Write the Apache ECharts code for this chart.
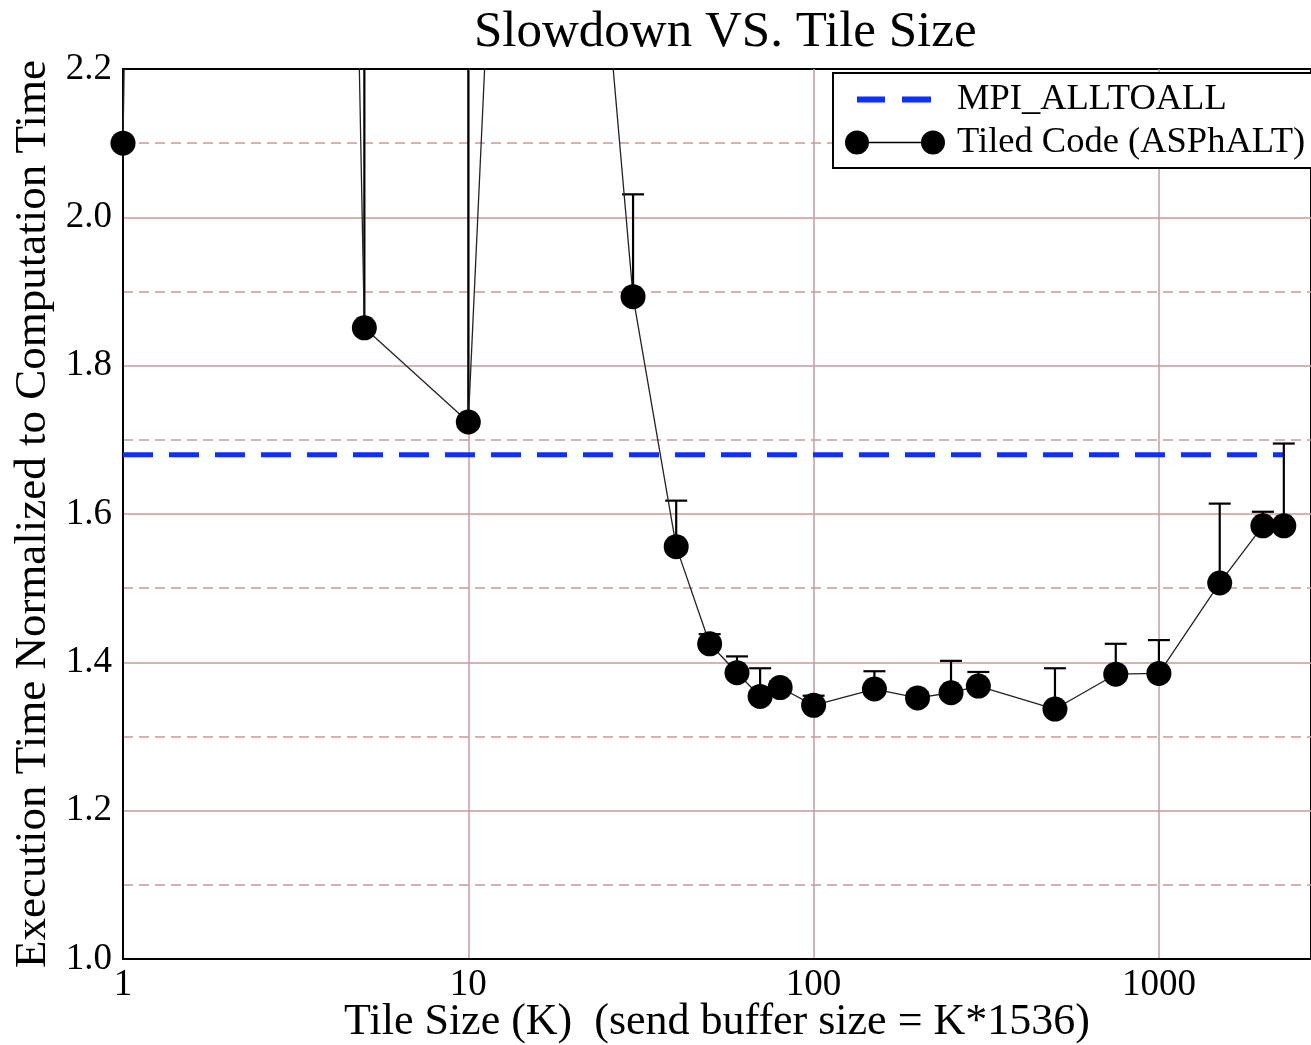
<!DOCTYPE html>
<html>
<head>
<meta charset="utf-8">
<script src="https://cdn.jsdelivr.net/npm/echarts@6/dist/echarts.min.js"></script>
<style>
html,body{margin:0;padding:0;background:#fff;}
#chart{width:1311px;height:1045px;}
</style>
</head>
<body>
<div id="chart"></div>
<script>
// ---- data ----
const tileSizes = [1, 2, 5, 10, 15, 30, 40, 50, 60, 70, 80, 100, 150, 200, 250, 300, 500, 750, 1000, 1500, 2000, 2300];
const slowdown  = [2.10, 11.4, 1.851, 1.724, 3.5, 1.893, 1.556, 1.425, 1.386, 1.354, 1.366, 1.342, 1.364, 1.352, 1.359, 1.368, 1.337, 1.384, 1.385, 1.507, 1.584, 1.584];
const errUpper  = [null, null, 4.0, 4.0, null, 2.031, 1.618, 1.438, 1.408, 1.392, 1.374, 1.355, 1.388, 1.360, 1.402, 1.387, 1.392, 1.425, 1.430, 1.614, 1.603, 1.695];
const mpiX = [1, 2300];
const mpiValue = [1.68, 1.68];
const yTicks = [1.0, 1.2, 1.4, 1.6, 1.8, 2.0, 2.2];
const xTickLabels = [1, 10, 100, 1000];

const serif = 'Liberation Serif';
const gridColor = '#c49c9c';

const tiledData = tileSizes.map((x, i) => [x, slowdown[i]]);
const errData = [];
tileSizes.forEach((x, i) => { if (errUpper[i] != null) errData.push([x, slowdown[i], errUpper[i]]); });
const mpiData = mpiX.map((x, i) => [x, mpiValue[i]]);

const chart = echarts.init(document.getElementById('chart'), null, {renderer: 'canvas'});
chart.setOption({
  backgroundColor: '#fff',
  animation: false,
  title: {
    text: 'Slowdown VS. Tile Size',
    left: 469, top: 2,
    textStyle: {fontFamily: serif, fontSize: 51, fontWeight: 'normal', color: '#000'}
  },
  grid: {left: 123, right: 0, top: 69, bottom: 86, show: true, borderColor: '#000', borderWidth: 2,
         backgroundColor: 'transparent', outerBoundsMode: 'none', containLabel: false},
  legend: {
    orient: 'vertical',
    left: 833, top: 73,
    padding: [8, 10, 7, 12],
    itemGap: 6,
    itemWidth: 100, itemHeight: 24,
    borderColor: '#000', borderWidth: 2,
    backgroundColor: '#fff',
    itemStyle: {borderWidth: 0},
    textStyle: {fontFamily: serif, fontSize: 36.5, color: '#000', padding: [0, 0, 0, 7]},
    data: [
      {name: 'MPI_ALLTOALL', icon: 'path://M0,0 L0.2,0 L0,0.2 Z M12,9 L40,9 L40,15 L12,15 Z M57,9 L86,9 L86,15 L57,15 Z M100,24 L99.8,24 L100,23.8 Z'},
      {name: 'Tiled Code (ASPhALT)', icon: 'path://M0,12 A12,12 0 1,0 24,12 A12,12 0 1,0 0,12 Z M24,11.2 L76,11.2 L76,12.8 L24,12.8 Z M76,12 A12,12 0 1,0 100,12 A12,12 0 1,0 76,12 Z'}
    ]
  },
  xAxis: {
    type: 'log', logBase: 10, min: 1, max: 2757,
    name: 'Tile Size (K)  (send buffer size = K*1536)',
    nameLocation: 'middle', nameGap: 41, nameMoveOverlap: false,
    nameTextStyle: {fontFamily: serif, fontSize: 44, color: '#000'},
    axisLine: {show: true, lineStyle: {color: '#000', width: 2}},
    axisTick: {show: false},
    axisLabel: {
      fontFamily: serif, fontSize: 37, color: '#000', margin: 8, showMaxLabel: false,
      formatter: v => xTickLabels.indexOf(Math.round(v)) >= 0 ? String(Math.round(v)) : ''
    },
    splitLine: {show: true, showMaxLine: false, lineStyle: {color: gridColor, width: 1.5}}
  },
  yAxis: {
    type: 'value', min: yTicks[0], max: yTicks[yTicks.length - 1], interval: 0.2,
    name: 'Execution Time Normalized to Computation Time',
    nameLocation: 'middle', nameGap: 67, nameMoveOverlap: false,
    nameTextStyle: {fontFamily: serif, fontSize: 45, color: '#000'},
    axisLine: {show: true, lineStyle: {color: '#000', width: 2}},
    axisTick: {show: false},
    axisLabel: {fontFamily: serif, fontSize: 37, color: '#000', margin: 11, formatter: v => v.toFixed(1)},
    splitLine: {show: true, showMaxLine: false, lineStyle: {color: gridColor, width: 1.5}},
    minorTick: {show: false, splitNumber: 2},
    minorSplitLine: {show: true, lineStyle: {color: gridColor, width: 1.5, type: [10, 6]}}
  },
  series: [
    {
      name: 'MPI_ALLTOALL', type: 'line', data: mpiData,
      symbol: 'none', clip: true, z: 3,
      itemStyle: {color: '#0d2fff'},
      lineStyle: {color: '#0d2fff', width: 5, type: [30, 16]}
    },
    {
      name: 'errbar', type: 'custom', data: errData, clip: true, z: 4,
      encode: {x: 0, y: [1, 2]},
      renderItem: function (params, api) {
        const x = api.value(0), y = api.value(1), u = api.value(2);
        const p0 = api.coord([x, y]);
        const p1 = api.coord([x, u]);
        return {
          type: 'group',
          children: [
            {type: 'line', shape: {x1: p0[0], y1: p0[1], x2: p1[0], y2: p1[1]}, style: {stroke: '#000', lineWidth: 2.2}},
            {type: 'line', shape: {x1: p1[0] - 11, y1: p1[1], x2: p1[0] + 11, y2: p1[1]}, style: {stroke: '#000', lineWidth: 2.2}}
          ]
        };
      }
    },
    {
      name: 'Tiled Code (ASPhALT)', type: 'line', data: tiledData,
      symbol: 'circle', symbolSize: 25, showAllSymbol: true, clip: true, z: 5,
      itemStyle: {color: '#000'},
      lineStyle: {color: '#222', width: 1.3}
    }
  ]
});
</script>
</body>
</html>
